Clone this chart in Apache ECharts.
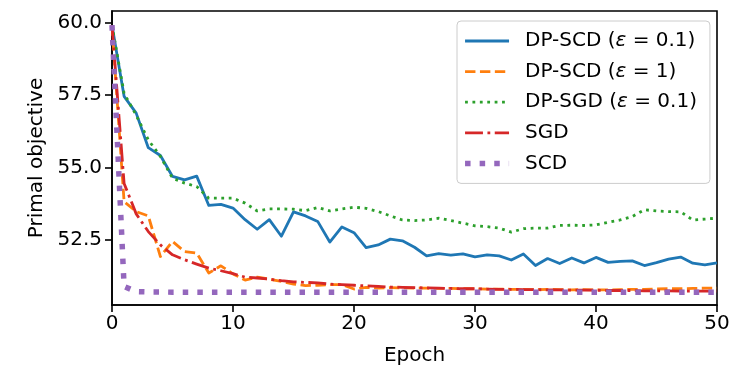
<!DOCTYPE html>
<html>
<head>
<meta charset="utf-8">
<script src="https://cdn.jsdelivr.net/npm/echarts@6/dist/echarts.min.js"></script>
<style>
  html, body { margin: 0; padding: 0; background: #fff; }
  #chart { width: 747px; height: 374px; }
</style>
</head>
<body>
<div id="chart"></div>
<script>
// epochs 0..50
const epochs = [0,1,2,3,4,5,6,7,8,9,10,11,12,13,14,15,16,17,18,19,20,21,22,23,24,25,26,27,28,29,30,31,32,33,34,35,36,37,38,39,40,41,42,43,44,45,46,47,48,49,50];

const dpScd01 = [59.9,57.45,56.87,55.68,55.41,54.69,54.57,54.7,53.69,53.73,53.6,53.2,52.87,53.2,52.63,53.47,53.33,53.14,52.43,52.95,
  52.75,52.24,52.33,52.53,52.47,52.25,51.95,52.03,51.98,52.02,51.92,51.99,51.95,51.81,52.02,51.62,51.86,51.69,51.88,51.71,
  51.9,51.73,51.76,51.78,51.62,51.72,51.84,51.91,51.7,51.64,51.71];

const dpScd1 = [59.9,53.82,53.48,53.33,51.93,52.45,52.1,52.05,51.36,51.61,51.33,51.12,51.22,51.15,51.07,50.98,50.93,50.94,50.96,50.96,
  50.81,50.87,50.84,50.86,50.85,50.84,50.84,50.83,50.83,50.82,50.82,50.81,50.81,50.8,50.8,50.79,50.8,50.79,50.78,50.79,
  50.78,50.78,50.79,50.8,50.8,50.81,50.82,50.82,50.83,50.84,50.84];

const dpSgd01 = [59.9,57.55,56.8,55.95,55.38,54.63,54.46,54.34,53.94,53.94,53.94,53.77,53.5,53.57,53.57,53.56,53.51,53.62,53.5,53.57,
  53.63,53.59,53.48,53.33,53.19,53.17,53.19,53.25,53.17,53.08,52.99,52.96,52.91,52.77,52.89,52.91,52.91,53.0,53.01,53.0,
  53.02,53.11,53.19,53.31,53.54,53.5,53.48,53.47,53.19,53.22,53.25];

const sgd = [59.9,54.45,53.4,52.79,52.33,51.99,51.82,51.67,51.53,51.44,51.34,51.22,51.19,51.15,51.1,51.06,51.04,51.02,50.98,50.96,
  50.94,50.92,50.9,50.88,50.87,50.86,50.85,50.84,50.83,50.82,50.82,50.81,50.8,50.8,50.79,50.79,50.78,50.78,50.77,50.77,
  50.77,50.76,50.76,50.76,50.75,50.75,50.75,50.74,50.74,50.74,50.74];

const scd = [59.9,50.9,50.72,50.71,50.71,50.7,50.7,50.7,50.7,50.7,50.7,50.7,50.7,50.7,50.7,50.7,50.7,50.7,50.7,50.7,
  50.7,50.7,50.7,50.7,50.7,50.7,50.7,50.7,50.7,50.7,50.7,50.7,50.7,50.7,50.7,50.7,50.7,50.7,50.7,50.7,
  50.7,50.7,50.7,50.7,50.7,50.7,50.7,50.7,50.7,50.7,50.7];

const yTicks = [52.5, 55.0, 57.5, 60.0];
const seriesNames = ['DP-SCD (ε = 0.1)', 'DP-SCD (ε = 1)', 'DP-SGD (ε = 0.1)', 'SGD', 'SCD'];

const font = 'DejaVu Sans';
const pair = ys => epochs.map((x, i) => [x, ys[i]]);

function lineSeries(name, ys, color, width, dash){
  return {
    name: name,
    type: 'line',
    data: pair(ys),
    symbol: 'none',
    lineStyle: {color: color, width: width, type: dash, cap: 'butt', join: 'round'},
    itemStyle: {color: color},
    emphasis: {disabled: true}
  };
}

const chart = echarts.init(document.getElementById('chart'));
chart.setOption({
  animation: false,
  backgroundColor: '#fff',
  grid: {left: 112, top: 11, width: 605, height: 294, show: true, borderColor: '#000', borderWidth: 1.6, backgroundColor: 'transparent'},
  xAxis: {
    type: 'value', min: 0, max: 50, interval: 10,
    name: 'Epoch', nameLocation: 'middle', nameGap: 41,
    nameTextStyle: {fontFamily: font, fontSize: 20, color: '#000'},
    axisLine: {show: true, onZero: false, lineStyle: {color: '#000', width: 1.6}},
    axisTick: {show: true, length: 7, lineStyle: {color: '#000', width: 1.6}},
    axisLabel: {fontFamily: font, fontSize: 20, color: '#000', margin: 9},
    splitLine: {show: false}
  },
  yAxis: {
    type: 'value', min: 50.26, max: 60.39,
    name: 'Primal objective', nameLocation: 'middle', nameGap: 64, nameRotate: 90,
    nameTextStyle: {fontFamily: font, fontSize: 20, color: '#000'},
    axisLine: {show: true, onZero: false, lineStyle: {color: '#000', width: 1.6}},
    axisTick: {show: true, length: 7, customValues: yTicks, lineStyle: {color: '#000', width: 1.6}},
    axisLabel: {fontFamily: font, fontSize: 20, color: '#000', margin: 10, customValues: yTicks,
      formatter: v => v.toFixed(1)},
    splitLine: {show: false}
  },
  legend: {
    data: seriesNames,
    orient: 'vertical',
    left: 457, top: 21,
    padding: [9, 13, 9, 5.3],
    itemWidth: 44, itemHeight: 22, itemGap: 8.6,
    backgroundColor: 'rgba(255,255,255,0.8)',
    borderColor: '#cccccc', borderWidth: 1, borderRadius: 4,
    selectedMode: false,
    itemStyle: {opacity: 0, borderWidth: 0},
    lineStyle: {width: 'inherit', type: 'inherit', cap: 'butt'},
    formatter: name => name.replace('ε', '{i|ε}'),
    textStyle: {fontFamily: font, fontSize: 20, color: '#000', lineHeight: 22, padding: [0, 0, 0, 11],
      rich: {i: {fontFamily: font, fontSize: 20, fontStyle: 'italic', color: '#000'}}}
  },
  series: [
    lineSeries(seriesNames[0], dpScd01, '#1f77b4', 2.8, 'solid'),
    lineSeries(seriesNames[1], dpScd1, '#ff7f0e', 2.8, [10.4, 4.5]),
    lineSeries(seriesNames[2], dpSgd01, '#2ca02c', 2.8, [2.8, 4.6]),
    lineSeries(seriesNames[3], sgd, '#d62728', 2.8, [17.9, 4.5, 2.8, 4.5]),
    lineSeries(seriesNames[4], scd, '#9467bd', 5.5, [5.5, 9.1])
  ]
});
</script>
</body>
</html>
